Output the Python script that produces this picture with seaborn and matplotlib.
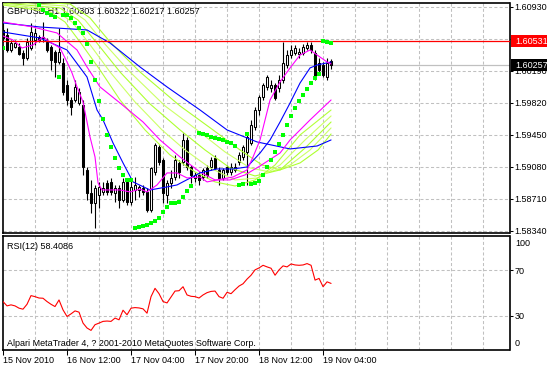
import numpy as np
import pandas as pd
import matplotlib
matplotlib.use("Agg")
import matplotlib.pyplot as plt
import matplotlib.transforms as mtransforms
from matplotlib.patches import Rectangle
import seaborn as sns

NA = float("nan")

# ---------------- data ----------------
header = "GBPUSD,H1 1.60303 1.60322 1.60217 1.60257"
rsi_label = "RSI(12) 58.4086"
copyright_text = "Alpari MetaTrader 4, ? 2001-2010 MetaQuotes Software Corp."

date_ticks = [0, 16, 32, 48, 64, 80]
date_labels = ["15 Nov 2010", "16 Nov 12:00", "17 Nov 04:00", "17 Nov 20:00",
               "18 Nov 12:00", "19 Nov 04:00"]
price_ticks = [1.60930, 1.60560, 1.60190, 1.59820, 1.59450, 1.59080, 1.58710, 1.58340]
rsi_ticks = [70, 30]
grid_bars = list(range(8, 121, 8))

red_level = 1.60531
bid_level = 1.60257

opens = [1.60664, 1.60606, 1.60432, 1.60467, 1.60467, 1.60397, 1.60339, 1.60455, 1.60548, 1.60583,
         1.60583, 1.60525, 1.60467, 1.60409, 1.60293, 1.60282, 1.60027, 1.59853, 1.59853, 1.59818,
         1.59795, 1.59043, 1.58776, 1.58660, 1.58753, 1.58788, 1.58892, 1.58904, 1.58776, 1.58834,
         1.58695, 1.58904, 1.58672, 1.58811, 1.58811, 1.58834, 1.58788, 1.58579, 1.59019, 1.59309,
         1.59158, 1.58753, 1.58892, 1.58961, 1.59124, 1.59135, 1.59390, 1.59077, 1.58950, 1.58985,
         1.58961, 1.59066, 1.59077, 1.59181, 1.59043, 1.58950, 1.59077, 1.59019, 1.59043, 1.59135,
         1.59193, 1.59251, 1.59355, 1.59540, 1.59737, 1.59888, 1.60004, 1.59992, 1.60027, 1.59992,
         1.60085, 1.60258, 1.60374, 1.60397, 1.60386, 1.60397, 1.60455, 1.60490, 1.60397, 1.60282,
         1.60258, 1.60119, 1.60303]
highs = [1.60745, 1.60687, 1.60548, 1.60548, 1.60513, 1.60432, 1.60571, 1.60745, 1.60687, 1.60606,
         1.60756, 1.60571, 1.60490, 1.60432, 1.60687, 1.60339, 1.60085, 1.59888, 1.60085, 1.59992,
         1.59853, 1.59077, 1.58927, 1.58869, 1.58904, 1.58904, 1.58927, 1.58950, 1.58869, 1.58869,
         1.58950, 1.58950, 1.58950, 1.58961, 1.58869, 1.58869, 1.58834, 1.59077, 1.59355, 1.59332,
         1.59181, 1.58927, 1.59043, 1.59216, 1.59158, 1.59471, 1.59425, 1.59100, 1.59019, 1.59019,
         1.59066, 1.59100, 1.59193, 1.59216, 1.59077, 1.59066, 1.59100, 1.59124, 1.59124, 1.59251,
         1.59332, 1.59471, 1.59622, 1.59772, 1.59911, 1.60050, 1.60143, 1.60085, 1.60050, 1.60143,
         1.60525, 1.60432, 1.60490, 1.60490, 1.60455, 1.60502, 1.60525, 1.60525, 1.60432, 1.60339,
         1.60293, 1.60339, 1.60322]
lows = [1.60525, 1.60409, 1.60409, 1.60455, 1.60374, 1.60258, 1.60316, 1.60432, 1.60490, 1.60525,
        1.60525, 1.60409, 1.60200, 1.60119, 1.60270, 1.59911, 1.59795, 1.59679, 1.59830, 1.59795,
        1.58985, 1.58695, 1.58545, 1.58371, 1.58602, 1.58753, 1.58753, 1.58753, 1.58672, 1.58602,
        1.58672, 1.58637, 1.58637, 1.58695, 1.58730, 1.58753, 1.58556, 1.58556, 1.58985, 1.59100,
        1.58660, 1.58660, 1.58834, 1.58927, 1.58950, 1.59100, 1.59043, 1.58892, 1.58904, 1.58869,
        1.58927, 1.58950, 1.59043, 1.59043, 1.58869, 1.58927, 1.58985, 1.58985, 1.59019, 1.59100,
        1.59158, 1.58869, 1.59332, 1.59506, 1.59679, 1.59853, 1.59969, 1.59946, 1.59853, 1.59946,
        1.60050, 1.60224, 1.60339, 1.60374, 1.60339, 1.60374, 1.60432, 1.60397, 1.60085, 1.60143,
        1.60119, 1.60085, 1.60217]
closes = [1.60571, 1.60432, 1.60513, 1.60513, 1.60386, 1.60339, 1.60525, 1.60640, 1.60629, 1.60548,
          1.60571, 1.60432, 1.60316, 1.60293, 1.60409, 1.59946, 1.59853, 1.59772, 1.60004, 1.59946,
          1.59077, 1.58776, 1.58660, 1.58834, 1.58846, 1.58834, 1.58788, 1.58788, 1.58834, 1.58695,
          1.58904, 1.58672, 1.58846, 1.58869, 1.58846, 1.58788, 1.58579, 1.59066, 1.59332, 1.59135,
          1.58776, 1.58892, 1.58950, 1.59158, 1.59019, 1.59390, 1.59077, 1.58985, 1.58985, 1.58927,
          1.59043, 1.58985, 1.59158, 1.59066, 1.58950, 1.59043, 1.59019, 1.59077, 1.59077, 1.59216,
          1.59309, 1.59425, 1.59564, 1.59737, 1.59888, 1.60027, 1.60119, 1.60027, 1.59876, 1.60085,
          1.60282, 1.60374, 1.60432, 1.60455, 1.60409, 1.60467, 1.60490, 1.60432, 1.60119, 1.60200,
          1.60143, 1.60282, 1.60257]

mag_fast_x = [0, 2.5, 4.75, 7.5, 10, 11.75, 14.25, 16, 17.25, 18.5, 20, 21.75, 23, 23.75, 24.75,
              26.75, 29.25, 31.75, 34.25, 36, 38.5, 41, 43.5, 46, 49.25, 51, 53.5, 57.5, 61, 62.5,
              64.25, 65.5, 66.75, 69.25, 71.75, 74.25, 76.75, 78.5, 81, 82]
mag_fast_y = [1.60594, 1.60548, 1.60455, 1.60490, 1.60583, 1.60525, 1.60455, 1.60293, 1.60166, 1.60004,
              1.59830, 1.59425, 1.59193, 1.58892, 1.58811, 1.58811, 1.58811, 1.58788, 1.58822, 1.58788,
              1.58869, 1.59008, 1.59008, 1.58950, 1.58961, 1.58904, 1.58927, 1.58961, 1.59043, 1.59193,
              1.59390, 1.59622, 1.59853, 1.60062, 1.60224, 1.60374, 1.60432, 1.60374, 1.60293, 1.60270]
blue_fast_x = [0, 9.25, 16, 21, 23.5, 25, 27.5, 30, 32.5, 36.75, 41, 43.5, 49.25, 53.5, 57.5, 61,
               64.25, 66.75, 69.25, 71.75, 74.25, 76.75, 78.5, 82]
blue_fast_y = [1.60640, 1.60571, 1.60432, 1.60119, 1.59737, 1.59622, 1.59355, 1.59124, 1.58904, 1.58811,
               1.58846, 1.58869, 1.59008, 1.59054, 1.59054, 1.59077, 1.59239, 1.59390, 1.59598, 1.59818,
               1.60050, 1.60224, 1.60258, 1.60293]
mag_slow_x = [0, 7.5, 13.5, 18.5, 21, 24.25, 29.25, 35, 39.25, 44.25, 49.25, 53, 56.75, 60.5, 64.25,
              69.25, 71.75, 76.75, 82]
mag_slow_y = [1.60756, 1.60698, 1.60629, 1.60432, 1.60235, 1.60004, 1.59818, 1.59598, 1.59390, 1.59193,
              1.59019, 1.58927, 1.58927, 1.58985, 1.59089, 1.59239, 1.59390, 1.59622, 1.59853]
blue_slow_x = [0, 9.25, 21, 26.75, 34.25, 41, 49.25, 56, 63.5, 71.75, 78.5, 82]
blue_slow_y = [1.60745, 1.60698, 1.60664, 1.60513, 1.60235, 1.60004, 1.59737, 1.59506, 1.59367, 1.59286,
               1.59320, 1.59390]

g1_x = [0, 11.75, 15.5, 19.25, 24.25, 29.25, 35.5, 41.75, 48, 53, 58, 63, 68, 74.25, 82]
g1_y = [1.60953, 1.60872, 1.60756, 1.60525, 1.60200, 1.59853, 1.59506, 1.59216, 1.59019, 1.58904,
        1.58857, 1.58927, 1.59100, 1.59448, 1.59737]
g2_x = [0, 13, 17.25, 21.25, 26.75, 33, 39.75, 45.5, 51.75, 58, 63.75, 69.25, 75.5, 82]
g2_y = [1.60965, 1.60895, 1.60756, 1.60525, 1.60177, 1.59830, 1.59506, 1.59274, 1.59066, 1.58927,
        1.58950, 1.59100, 1.59390, 1.59668]
g3_x = [0, 14.25, 18.75, 23.25, 29.25, 36.75, 44.25, 50.5, 56.75, 63, 69.25, 75.5, 82]
g3_y = [1.60976, 1.60918, 1.60779, 1.60525, 1.60177, 1.59807, 1.59506, 1.59274, 1.59066, 1.58973,
        1.59043, 1.59297, 1.59598]
g4_x = [0, 15.5, 20.5, 25, 31.75, 40.5, 48.5, 55.5, 61.75, 66.75, 71.75, 76.75, 82]
g4_y = [1.60988, 1.60942, 1.60779, 1.60525, 1.60177, 1.59784, 1.59506, 1.59251, 1.59066, 1.59019,
        1.59100, 1.59274, 1.59529]
g5_x = [0, 16.75, 21.75, 26.75, 34.25, 44.25, 52.5, 59.25, 64.75, 69.25, 74.25, 78.75, 82]
g5_y = [1.60999, 1.60965, 1.60803, 1.60525, 1.60177, 1.59784, 1.59506, 1.59274, 1.59100, 1.59043,
        1.59124, 1.59274, 1.59459]

sar = [1.60455, NA, NA, NA, NA, NA, NA, NA, NA, 1.60953,
       1.60895, 1.60861, 1.60837, 1.60814, 1.60119, 1.60837, 1.60837, 1.60803, 1.60745, 1.60687,
       1.60629, 1.60502, 1.60293, 1.60085, 1.59841, 1.59633, 1.59448, 1.59309, 1.59181, 1.59066,
       1.58985, 1.58927, 1.58927, 1.58371, 1.58382, 1.58394, 1.58406, 1.58429, 1.58452, 1.58486,
       1.58556, 1.58614, 1.58660, 1.58660, 1.58672, 1.58730, 1.58799, 1.58857, NA, 1.59471,
       1.59460, 1.59448, 1.59425, 1.59413, 1.59402, 1.59390, 1.59367, 1.59355, 1.59320, 1.58869,
       1.58880, 1.59460, 1.58880, 1.58892, 1.58915, 1.58985, 1.59077, 1.59158, 1.59251, 1.59344,
       1.59448, 1.59564, 1.59668, 1.59760, 1.59841, 1.59911, 1.59981, 1.60050, 1.60108, 1.60154,
       1.60537, 1.60525, 1.60513]

rsi = [42.5, 38.7, 39.6, 38.7, 36.7, 35.8, 40.1, 47.7, 46.8, 45.6,
       45.4, 42.5, 40.1, 38.1, 43.9, 35.2, 29.4, 31.7, 34.3, 33.2,
       23.6, 19.3, 17.2, 22.2, 23.6, 25.1, 25.4, 25.1, 28.0, 26.5,
       34.9, 30.9, 36.7, 37.2, 36.9, 36.1, 32.3, 46.8, 54.1, 49.4,
       42.5, 41.3, 46.5, 51.7, 52.0, 55.5, 48.3, 47.1, 46.8, 45.6,
       48.3, 50.3, 51.4, 51.7, 46.8, 45.4, 50.6, 49.4, 52.9, 56.1,
       58.1, 62.2, 65.6, 70.3, 72.0, 74.3, 72.9, 71.7, 65.6, 70.3,
       73.8, 72.9, 75.5, 74.6, 74.3, 74.6, 75.8, 74.3, 61.3, 62.8,
       55.5, 59.8, 58.4086]

# ---------------- style ----------------
sns.set_style("white")
plt.rcParams["font.family"] = ["Liberation Sans", "DejaVu Sans"]
plt.rcParams["lines.scale_dashes"] = False
FS = 6.5

W, H = 547, 368
fig = plt.figure(figsize=(W / 100, H / 100), dpi=100)
fig.patch.set_facecolor("white")


def rect(l, t, r, b):
    return [l / W, 1 - b / H, (r - l) / W, (b - t) / H]


ax = fig.add_axes(rect(2.7, 3, 509.5, 233.3))
axr = fig.add_axes(rect(2.7, 236, 509.5, 350))

bars = np.arange(len(opens))
df = pd.DataFrame({"bar": bars, "open": opens, "high": highs, "low": lows, "close": closes})
up = (df["close"] >= df["open"]).to_numpy()

grid_kw = dict(color="#C0C0C0", lw=0.75, ls=(0, (2.2, 1.6)), zorder=0.5)
for a in (ax, axr):
    for g in grid_bars:
        a.axvline(g, **grid_kw)
for p in price_ticks:
    ax.axhline(p, **grid_kw)
for r in rsi_ticks:
    axr.axhline(r, **grid_kw)

# bid line
ax.axhline(bid_level, color="#C0C0C0", lw=0.9, zorder=1)

# header text (behind indicators)
ax.text(0.0085, 0.965, header, transform=ax.transAxes, fontsize=FS, va="center",
        ha="left", color="black", zorder=1.2)

# candles
ax.vlines(df["bar"], df["low"], df["high"], color="black", lw=0.8, zorder=2)
body_bottom = np.minimum(df["open"], df["close"])
body_h = np.abs(df["close"] - df["open"])
ax.bar(df["bar"], body_h, bottom=body_bottom, width=0.55,
       color=np.where(up, "white", "black"), edgecolor="black", lw=0.75, zorder=2.2)

# moving averages
line_kw = dict(ax=ax, lw=0.8, estimator=None, legend=False, zorder=3)
greens = [(g5_x, g5_y, "#ADFF2F"), (g4_x, g4_y, "#CCFF66"), (g3_x, g3_y, "#ADFF2F"),
          (g2_x, g2_y, "#CCFF66"), (g1_x, g1_y, "#B4FF3A")]
for xs, ys, c in greens:
    sns.lineplot(x=xs, y=ys, color=c, **line_kw)
sns.lineplot(x=blue_slow_x, y=blue_slow_y, color="#0000FF", **line_kw)
sns.lineplot(x=mag_slow_x, y=mag_slow_y, color="#FF00FF", **line_kw)
sns.lineplot(x=blue_fast_x, y=blue_fast_y, color="#0000FF", **line_kw)
sns.lineplot(x=mag_fast_x, y=mag_fast_y, color="#FF00FF", **line_kw)

# parabolic SAR
sns.scatterplot(x=bars, y=sar, ax=ax, marker="s", s=7, color="#00FF00",
                edgecolor="none", linewidth=0, legend=False, zorder=4)

# red level line
ax.axhline(red_level, color="#FF0000", lw=0.9, zorder=3.5)

# RSI
sns.lineplot(x=bars, y=rsi, ax=axr, color="#FF0000", lw=0.8, estimator=None,
             legend=False, zorder=3)
axr.text(0.0085, 0.912, rsi_label, transform=axr.transAxes, fontsize=FS,
         va="center", ha="left", color="black")
axr.text(0.0085, 0.061, copyright_text, transform=axr.transAxes, fontsize=FS,
         va="center", ha="left", color="black")

# axes / ticks
for a in (ax, axr):
    a.set_xlim(-0.075, 126.6)
    a.set_xlabel("")
    a.set_ylabel("")
    a.set_facecolor("white")
    for s in a.spines.values():
        s.set_visible(True)
        s.set_color("black")
        s.set_linewidth(1.2)
    a.yaxis.tick_right()

ax.set_ylim(1.58309, 1.60976)
ax.set_yticks(price_ticks)
ax.set_yticklabels([f"{p:.5f}" for p in price_ticks])
ax.set_xticks([])
ax.tick_params(axis="y", which="both", right=True, left=False, labelright=True,
               labelleft=False, direction="out", length=2.2, width=0.75, pad=1.6,
               labelsize=FS, colors="black")

axr.set_ylim(0, 100)
axr.set_yticks(rsi_ticks)
axr.set_yticklabels([str(v) for v in rsi_ticks])
axr.tick_params(axis="y", right=True, left=False, labelright=True, labelleft=False,
                direction="out", length=2.2, width=0.75, pad=1.6, labelsize=FS,
                colors="black")
axr.set_xticks(date_ticks)
axr.set_xticklabels(date_labels, ha="left")
axr.tick_params(axis="x", bottom=True, direction="out", length=3.5, width=0.75,
                pad=0.6, labelsize=FS, colors="black")
axr.text(1.0109, 0.93, "100", transform=axr.transAxes, fontsize=FS, va="center",
         ha="left", color="black")
axr.text(1.0109, 0.055, "0", transform=axr.transAxes, fontsize=FS, va="center",
         ha="left", color="black")

# price boxes on the right scale
trans = mtransforms.blended_transform_factory(ax.transAxes, ax.transData)
hh = 6 * 0.0001158
for lvl, fc in [(red_level, "#FF0000"), (bid_level, "#000000")]:
    ax.add_patch(Rectangle((1.0032, lvl - hh), 0.075, 2 * hh, transform=trans,
                           facecolor=fc, edgecolor="none", clip_on=False, zorder=6))
    ax.text(1.0109, lvl, f"{lvl:.5f}", transform=trans, fontsize=FS, va="center",
            ha="left", color="white", zorder=7, clip_on=False)

fig.savefig("out.png", dpi=100, facecolor="white")
